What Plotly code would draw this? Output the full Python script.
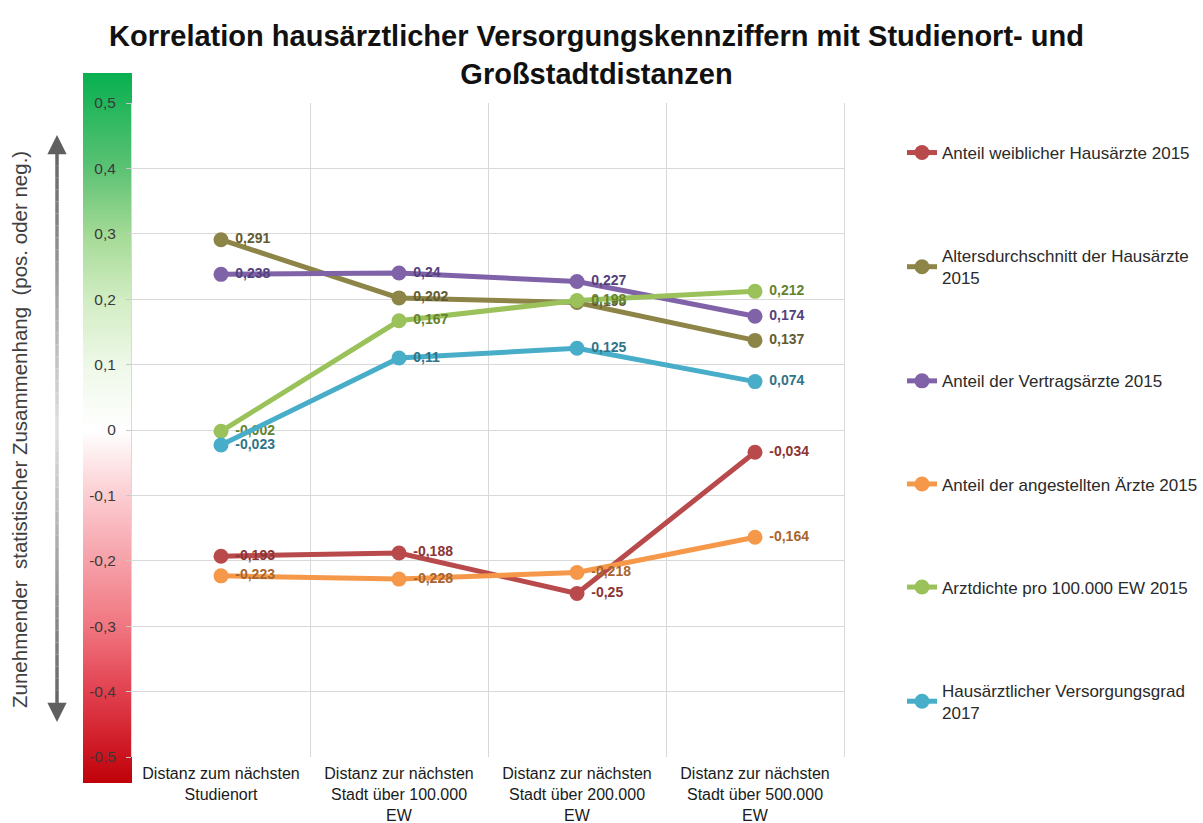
import plotly.graph_objects as go

# Kategorien (x-Achse)
categories = [
    "Distanz zum nächsten<br>Studienort",
    "Distanz zur nächsten<br>Stadt über 100.000<br>EW",
    "Distanz zur nächsten<br>Stadt über 200.000<br>EW",
    "Distanz zur nächsten<br>Stadt über 500.000<br>EW",
]

# Korrelationskoeffizienten je Kennziffer
anteil_weiblich = [-0.193, -0.188, -0.25, -0.034]
altersdurchschnitt = [0.291, 0.202, 0.195, 0.137]
anteil_vertragsaerzte = [0.238, 0.24, 0.227, 0.174]
anteil_angestellte = [-0.223, -0.228, -0.218, -0.164]
arztdichte = [-0.002, 0.167, 0.198, 0.212]
versorgungsgrad = [-0.023, 0.11, 0.125, 0.074]

series_names = [
    "Anteil weiblicher Hausärzte 2015",
    "Altersdurchschnitt der Hausärzte<br>2015",
    "Anteil der Vertragsärzte 2015",
    "Anteil der angestellten Ärzte 2015",
    "Arztdichte pro 100.000 EW 2015",
    "Hausärztlicher Versorgungsgrad<br>2017",
]
series_values = [
    anteil_weiblich, altersdurchschnitt, anteil_vertragsaerzte,
    anteil_angestellte, arztdichte, versorgungsgrad,
]
line_colors = ["#b94a4c", "#8d8447", "#7f62a8", "#f6984a", "#9bc25a", "#47adc8"]
label_colors = ["#8a3434", "#625b32", "#54417a", "#a8652d", "#66822e", "#2f7488"]

# y-Achse
y_tickvals = [0.5, 0.4, 0.3, 0.2, 0.1, 0, -0.1, -0.2, -0.3, -0.4, -0.5]
y_ticktext = ["0,5", "0,4", "0,3", "0,2", "0,1", "0", "-0,1", "-0,2", "-0,3", "-0,4", "-0,5"]

# Farbbalken (Skala von negativ/rot bis positiv/grün)
bar_low, bar_high = -0.54, 0.546

W, H = 1203, 823
ML, MR, MT, MB = 83, 359, 73, 40
PW = W - ML - MR
PH = H - MT - MB
bar_w = 49 / PW
y_main_domain = [(783 - 757) / PH, (783 - 103) / PH]

FONT = "Liberation Sans, Arial"
fmt = lambda v: "\u00a0" + ("%g" % v).replace(".", ",")

fig = go.Figure()

# Farbverlauf links der Zeichenfläche
fig.add_trace(go.Heatmap(
    x=[0, 1], y=[bar_low, bar_high],
    z=[[bar_low, bar_low], [bar_high, bar_high]],
    zmin=bar_low, zmax=bar_high, zsmooth="best",
    colorscale=[
        [0.0, "#c00008"], [0.129, "#e2404f"], [0.221, "#f07680"],
        [0.313, "#f6a0a8"], [0.405, "#fbcdd1"], [0.497, "#ffffff"],
        [0.589, "#eef8e8"], [0.681, "#d2edc3"], [0.773, "#a4da96"],
        [0.866, "#5cc274"], [1.0, "#08b050"],
    ],
    showscale=False, hoverinfo="skip", xaxis="x", yaxis="y",
))

for name, vals, lc, tc in zip(series_names, series_values, line_colors, label_colors):
    fig.add_trace(go.Scatter(
        x=list(range(len(categories))), y=vals, name=name,
        mode="lines+markers+text",
        line=dict(color=lc, width=5),
        marker=dict(color=lc, size=15),
        text=[fmt(v) for v in vals], textposition="middle right",
        textfont=dict(family=FONT, size=14, color=tc, weight="bold"),
        xaxis="x2", yaxis="y2", cliponaxis=False,
    ))

# Graustufen-Pfeil (oben/unten dunkler, zur Mitte heller)
ax_x = (57 - ML) / PW
mid_px = 428
n_seg = 24
def gray(t):
    c = int(round(225 - t * (225 - 95)))
    return "rgb(%d,%d,%d)" % (c, c, c)
for tip_px in (142, 714):
    for i in range(n_seg):
        a = mid_px + (tip_px - mid_px) * i / n_seg
        b = mid_px + (tip_px - mid_px) * (i + 1) / n_seg
        fig.add_shape(type="line", xref="paper", yref="paper",
                      x0=ax_x, x1=ax_x, y0=(783 - a) / PH, y1=(783 - b) / PH,
                      line=dict(color=gray((i + 0.5) / n_seg), width=3.5))
for tip_px, off in ((135, 14), (722, -14)):
    fig.add_annotation(x=ax_x, y=(783 - tip_px) / PH, xref="paper", yref="paper",
                       ax=0, ay=off, axref="pixel", ayref="pixel", text="",
                       showarrow=True, arrowhead=2, arrowsize=1.1, arrowwidth=3.5,
                       arrowcolor="#5f5f5f")

fig.add_annotation(
    text="Zunehmender  statistischer Zusammenhang  (pos. oder neg.)",
    textangle=-90, xref="paper", yref="paper",
    x=(19 - ML) / PW, y=(783 - 430) / PH, xanchor="center", yanchor="middle",
    showarrow=False, font=dict(family=FONT, size=20.5, color="#404040"),
)

fig.update_layout(
    width=W, height=H,
    margin=dict(l=ML, r=MR, t=MT, b=MB, autoexpand=False),
    paper_bgcolor="white", plot_bgcolor="white",
    title=dict(
        text="Korrelation hausärztlicher Versorgungskennziffern mit Studienort- und<br>Großstadtdistanzen",
        x=596.5 / W, xanchor="center", xref="container",
        y=1 - 46 / H, yanchor="top", yref="container",
        font=dict(family=FONT, size=29, color="#111111", weight="bold"),
    ),
    xaxis=dict(domain=[0, bar_w], range=[0, 1], visible=False, automargin=False),
    yaxis=dict(domain=[0, 1], range=[bar_low, bar_high], visible=False, anchor="x", automargin=False),
    xaxis2=dict(
        domain=[bar_w, 1], range=[-0.5, 3.5], anchor="y2", automargin=False,
        tickvals=list(range(len(categories))), ticktext=categories,
        showgrid=False, zeroline=False, showline=False,
        ticks="", ticklabelstandoff=5,
        tickfont=dict(family=FONT, size=16, color="#1a1a1a"),
        minor=dict(tickvals=[0.5, 1.5, 2.5], showgrid=True, gridcolor="#d9d9d9", gridwidth=1, ticks=""),
    ),
    yaxis2=dict(
        domain=y_main_domain, range=[-0.5, 0.5], anchor="x2", automargin=False,
        tickvals=y_tickvals, ticktext=y_ticktext,
        showgrid=True, gridcolor="#d9d9d9", gridwidth=1,
        zeroline=False, showline=True, linecolor="#d9d9d9", linewidth=1, mirror=True,
        ticks="outside", ticklen=5, tickcolor="#c8c8c8", ticklabelstandoff=7,
        tickfont=dict(family=FONT, size=15.5, color="#3a3a3a"),
    ),
    legend=dict(
        x=(902 - ML) / PW, xanchor="left", y=(783 - 135) / PH, yanchor="top",
        font=dict(family=FONT, size=17, color="#2a2a2a"),
        tracegroupgap=78, bgcolor="rgba(0,0,0,0)",
    ),
    showlegend=True,
)

for i, tr in enumerate(fig.data):
    if i > 0:
        tr.legendgroup = "g%d" % i

fig.data[0].showlegend = False

fig.write_html("out.html")
